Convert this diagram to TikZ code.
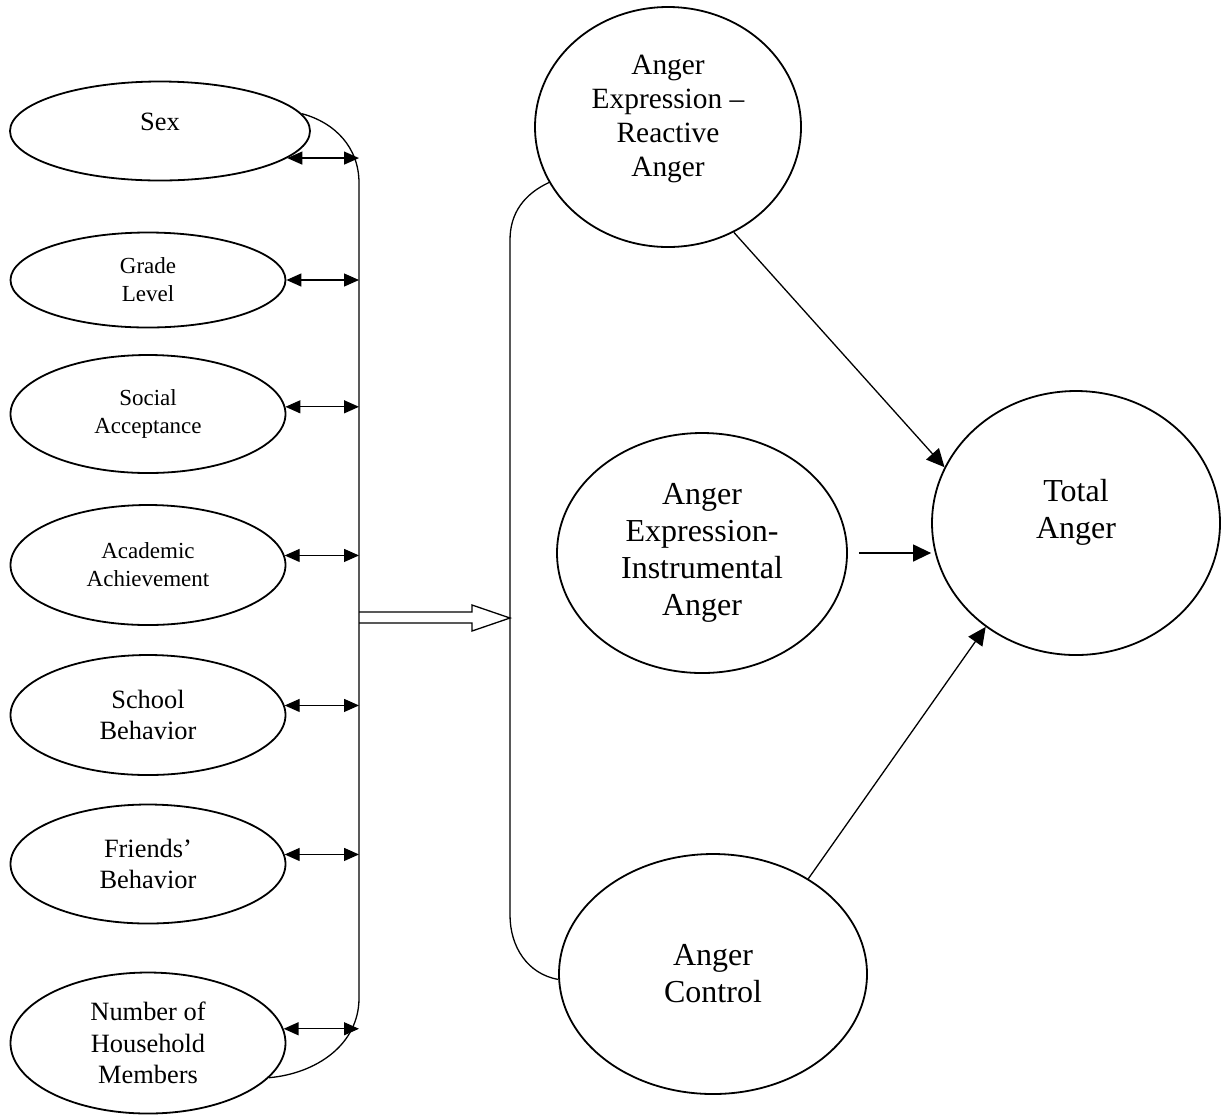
\documentclass[tikz,border=0pt]{standalone}
\usepackage{fontspec}
\setmainfont{Liberation Serif}
\usetikzlibrary{arrows.meta,shapes.geometric}

\newcommand{\fsmall}{\fontsize{11.5pt}{14pt}\selectfont}
\newcommand{\fmid}{\fontsize{13.2pt}{15.8pt}\selectfont}
\newcommand{\freact}{\fontsize{14.7pt}{17pt}\selectfont}
\newcommand{\fbig}{\fontsize{16pt}{18.5pt}\selectfont}

\begin{document}
\begin{tikzpicture}[x=0.5pt,y=-0.5pt,
		var/.style={ellipse,draw,line width=0.9pt,inner sep=0pt,align=center},
		pred/.style={var,minimum width=137.5pt,minimum height=60pt},
		con/.style={line width=0.65pt},
		both/.style={con,{Triangle[length=7.5pt,width=6.5pt]}-{Triangle[length=7.5pt,width=6.5pt]}},
		effect/.style={con,-{Triangle[length=9pt,width=8.5pt]}}]
			\useasboundingbox (0,0) rectangle (1229,1115);

			% predictors
			\node[pred,minimum width=150pt,minimum height=49.5pt,font=\fmid,text depth=9pt] (sex) at (160,131) {Sex};
			\node[pred,minimum height=47.5pt,font=\fsmall] (grade) at (148,280) {Grade\\Level};
			\node[pred,minimum height=59pt,font=\fsmall] (social) at (148,414) {Social\\Acceptance};
			\node[pred,font=\fsmall] (academic) at (148,565) {Academic\\Achievement};
			\node[pred,font=\fmid] (school) at (148,715) {School\\Behavior};
			\node[pred,minimum height=59.5pt,font=\fmid] (friends) at (148,864) {Friends'\\Behavior};
			\node[pred,minimum height=70.5pt,font=\fmid] (number) at (148,1043) {Number of\\Household\\Members};

			% anger scales
			\node[var,minimum width=133pt,minimum height=120pt,font=\freact,text depth=11pt] (react) at (668,127) {Anger\\Expression --\\Reactive\\Anger};
			\node[var,minimum width=145pt,minimum height=120pt,font=\fbig] (instr) at (702,553) {Anger\\Expression-\\Instrumental\\Anger};
			\node[var,minimum width=154pt,minimum height=120pt,font=\fbig] (control) at (713,974) {Anger\\Control};
			\node[var,minimum width=144pt,minimum height=132pt,font=\fbig,text depth=14pt] (total) at (1076,523) {Total\\Anger};

			\coordinate (lt) at (359,183);
			\coordinate (lb) at (359,998);
			\coordinate (rt) at (510,240);
			\coordinate (rb) at (510,915);
			\coordinate (fork) at (359,618);
			\coordinate (join) at (510,618);

			% brackets
			\draw[con] (sex.7) to[out=-15,in=90] (lt) -- (lb) to[out=-90,in=5] (number.-16);
			\draw[con] (react.205) to[out=205,in=90] (rt) -- (rb) to[out=-90,in=170] (control.182);

			\foreach \v/\a in {sex/-12, grade/0, social/3, academic/4, school/4, friends/4, number/6}
			\draw[both] (\v.\a) -- (\v.\a -| lt);

			% hollow arrow
			\draw[con] (fork) ++(0,-6) -- ++(113,0) -- ++(0,-7) -- (join) -- ++(-38,13) -- ++(0,-8) -- ++(-113,0);

			\draw[effect] (react.-58) -- (total.157);
			\draw[effect] ([xshift=5.5pt]instr.east) -- (instr.east -| total.west);
			\draw[effect] (control.45) -- (total.229);
		\end{tikzpicture}
\end{document}
